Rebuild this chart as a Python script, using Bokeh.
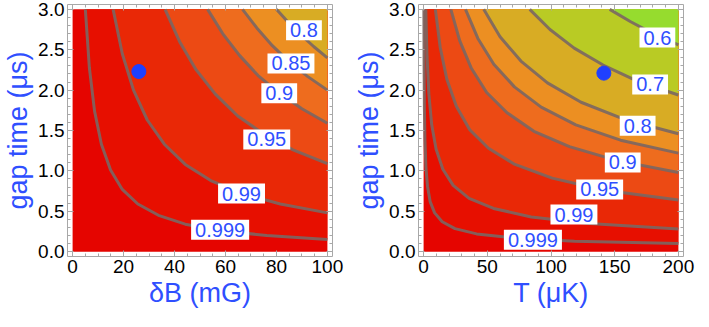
from bokeh.plotting import figure
from bokeh.layouts import row
from bokeh.models import Range1d, FixedTicker, LinearAxis, PrintfTickFormatter
from bokeh.core.properties import value
from bokeh.embed import file_html
from bokeh.resources import INLINE

# ---------------- data ----------------
GAP_MAX = 3.0
GAP_TICKS = [0.0, 0.5, 1.0, 1.5, 2.0, 2.5, 3.0]
GAP_MINOR = [i / 10 for i in range(0, 31)]

# left panel: delta B (mG)
B_MAX = 100
B_TICKS = [0, 20, 40, 60, 80, 100]
B_MINOR = list(range(0, 101, 5))
B_0999_X = [5.0, 6.57, 8.62, 11.3, 14.9, 19.5, 25.6, 33.7, 44.2, 58.1, 76.2, 100]
B_0999_Y = [3.0, 2.28, 1.74, 1.33, 1.01, 0.77, 0.59, 0.45, 0.34, 0.26, 0.20, 0.15]
B_099_X = [15.9, 19.5, 23.9, 29.3, 36.0, 44.2, 54.2, 66.5, 81.5, 100]
B_099_Y = [3.0, 2.45, 2.00, 1.63, 1.33, 1.08, 0.88, 0.72, 0.59, 0.48]
B_095_X = [36.3, 42.0, 48.5, 56.0, 64.8, 74.9, 86.5, 100]
B_095_Y = [3.0, 2.60, 2.25, 1.95, 1.68, 1.46, 1.26, 1.09]
B_09_X = [53.0, 58.9, 65.5, 72.8, 80.9, 90.0, 100]
B_09_Y = [3.0, 2.70, 2.43, 2.18, 1.97, 1.77, 1.59]
B_085_X = [66.7, 72.3, 78.4, 85.0, 92.2, 100]
B_085_Y = [3.0, 2.77, 2.55, 2.35, 2.17, 2.00]
B_08_X = [80.0, 84.6, 89.4, 94.6, 100]
B_08_Y = [3.0, 2.84, 2.69, 2.54, 2.40]
B_LABEL_X = [90.8, 85.7, 81.1, 76.2, 66.3, 57.9]
B_LABEL_Y = [2.74, 2.33, 1.96, 1.39, 0.72, 0.27]
B_LABEL_TEXT = ["0.8", "0.85", "0.9", "0.95", "0.99", "0.999"]
B_POINT = (26.0, 2.23)

# right panel: temperature (uK)
T_MAX = 200
T_TICKS = [0, 50, 100, 150, 200]
T_MINOR = list(range(0, 201, 10))
T_0999_X = [0.22, 0.38, 0.63, 1.07, 1.80, 3.04, 5.13, 8.65, 14.6, 24.6, 41.6, 70.2, 118.5, 200]
T_0999_Y = [3.0, 2.31, 1.78, 1.37, 1.05, 0.81, 0.62, 0.48, 0.37, 0.285, 0.22, 0.17, 0.13, 0.10]
T_099_X = [1.74, 2.68, 4.13, 6.36, 9.78, 15.1, 23.2, 35.7, 54.9, 84.5, 130.0, 200]
T_099_Y = [3.0, 2.42, 1.95, 1.57, 1.27, 1.02, 0.82, 0.66, 0.535, 0.43, 0.35, 0.28]
T_095_X = [9.22, 13.0, 18.3, 25.7, 36.2, 50.9, 71.7, 100.9, 142.1, 200]
T_095_Y = [3.0, 2.53, 2.13, 1.80, 1.51, 1.28, 1.08, 0.91, 0.76, 0.64]
T_09_X = [21.4, 28.4, 37.5, 49.5, 65.5, 86.6, 114.5, 151.3, 200]
T_09_Y = [3.0, 2.61, 2.27, 1.97, 1.72, 1.49, 1.30, 1.13, 0.98]
T_085_X = [32.9, 42.6, 55.1, 71.3, 92.3, 119.5, 154.6, 200]
T_085_Y = [3.0, 2.64, 2.32, 2.04, 1.79, 1.57, 1.38, 1.22]
T_08_X = [47.2, 60.0, 76.4, 97.2, 123.6, 157.2, 200]
T_08_Y = [3.0, 2.66, 2.36, 2.09, 1.85, 1.64, 1.46]
T_07_X = [83.3, 99.2, 118.2, 140.9, 167.8, 200]
T_07_Y = [3.0, 2.75, 2.52, 2.31, 2.11, 1.94]
T_06_X = [146.1, 162.2, 180.1, 200]
T_06_Y = [3.0, 2.85, 2.70, 2.56]
T_LABEL_X = [183.5, 177.8, 168.0, 156.3, 138.2, 118.0, 85.8]
T_LABEL_Y = [2.65, 2.07, 1.56, 1.105, 0.77, 0.46, 0.148]
T_LABEL_TEXT = ["0.6", "0.7", "0.8", "0.9", "0.95", "0.99", "0.999"]
T_POINT = (141.5, 2.21)

# ---------------- style ----------------
BAND_TOP = "#e50500"            # fidelity above 0.999
BAND_BELOW = {                   # fill of the band just below each level
    "0.999": "#e70f00",
    "0.99": "#e92806",
    "0.95": "#ec4a14",
    "0.9": "#ee6c1e",
    "0.85": "#ec8f22",
    "0.8": "#d8ac24",
    "0.7": "#b9cb24",
    "0.6": "#96dc2e",
}
LINE_COL = "#7a6763"
FRAME = "#a8a8a8"
BLUE = "#2f4fff"
DOT = "#1f40ff"
FONT = "Liberation Sans"


def add_axis(p, loc, ticks, minor, labels, fmt=None, title=None):
    ax = LinearAxis(ticker=FixedTicker(ticks=ticks, minor_ticks=minor))
    ax.axis_line_color = FRAME
    ax.axis_line_width = 1
    ax.major_tick_line_color = FRAME
    ax.minor_tick_line_color = FRAME
    ax.major_tick_in = 6
    ax.major_tick_out = 0
    ax.minor_tick_in = 3
    ax.minor_tick_out = 0
    if fmt is not None:
        ax.formatter = fmt
    if labels:
        ax.major_label_text_font = FONT
        ax.major_label_text_font_size = "19px"
        ax.major_label_text_color = "black"
        ax.major_label_standoff = 3
    else:
        ax.major_label_text_font_size = "1px"
        ax.major_label_text_color = None
        ax.major_label_standoff = 0
    if title is not None:
        ax.axis_label = title
        ax.axis_label_text_font = FONT
        ax.axis_label_text_font_size = "27px"
        ax.axis_label_text_font_style = "normal"
        ax.axis_label_text_color = BLUE
        ax.axis_label_standoff = 2
    p.add_layout(ax, loc)


def panel(x_max, x_ticks, x_minor, x_title, contours, lab_x, lab_y, lab_text, point,
          border_left, border_right):
    pad_x = x_max * 0.02
    pad_y = 0.06
    p = figure(frame_width=265, frame_height=252, output_backend="svg",
               toolbar_location=None,
               x_range=Range1d(-pad_x, x_max + pad_x),
               y_range=Range1d(-pad_y, GAP_MAX + pad_y),
               x_axis_location=None, y_axis_location=None,
               min_border_left=border_left, min_border_right=border_right,
               min_border_top=4, min_border_bottom=0,
               background_fill_color="white", border_fill_color="white",
               outline_line_color=None)
    p.grid.visible = False

    p.quad(left=[0], right=[x_max], bottom=[0], top=[GAP_MAX],
           fill_color=BAND_TOP, line_color=None)
    for level, xs, ys in contours:
        p.patch(list(xs) + [x_max], list(ys) + [GAP_MAX],
                fill_color=BAND_BELOW[level], line_color=None)
    for level, xs, ys in contours:
        p.line(xs, ys, line_color=LINE_COL, line_width=3, line_alpha=0.9)

    p.text(x=lab_x, y=lab_y, text=lab_text,
           text_font=value(FONT), text_font_size=value("20px"),
           text_color=BLUE, text_align="center", text_baseline="middle",
           background_fill_color="white", padding=(4, 3))

    p.scatter(x=[point[0]], y=[point[1]], size=14, fill_color=DOT, line_color=DOT)

    add_axis(p, "below", x_ticks, x_minor, True, title=x_title)
    add_axis(p, "left", GAP_TICKS, GAP_MINOR, True,
             fmt=PrintfTickFormatter(format="%.1f"), title="gap time (μs)")
    add_axis(p, "above", x_ticks, x_minor, False)
    add_axis(p, "right", GAP_TICKS, GAP_MINOR, False)
    return p


left_contours = [
    ("0.999", B_0999_X, B_0999_Y),
    ("0.99", B_099_X, B_099_Y),
    ("0.95", B_095_X, B_095_Y),
    ("0.9", B_09_X, B_09_Y),
    ("0.85", B_085_X, B_085_Y),
    ("0.8", B_08_X, B_08_Y),
]
right_contours = [
    ("0.999", T_0999_X, T_0999_Y),
    ("0.99", T_099_X, T_099_Y),
    ("0.95", T_095_X, T_095_Y),
    ("0.9", T_09_X, T_09_Y),
    ("0.85", T_085_X, T_085_Y),
    ("0.8", T_08_X, T_08_Y),
    ("0.7", T_07_X, T_07_Y),
    ("0.6", T_06_X, T_06_Y),
]

p1 = panel(B_MAX, B_TICKS, B_MINOR, "δB (mG)", left_contours,
           B_LABEL_X, B_LABEL_Y, B_LABEL_TEXT, B_POINT, 62, 14)
p2 = panel(T_MAX, T_TICKS, T_MINOR, "T (μK)", right_contours,
           T_LABEL_X, T_LABEL_Y, T_LABEL_TEXT, T_POINT, 72, 12)

layout = row(p1, p2)
open("out.html", "w").write(file_html(layout, INLINE))
